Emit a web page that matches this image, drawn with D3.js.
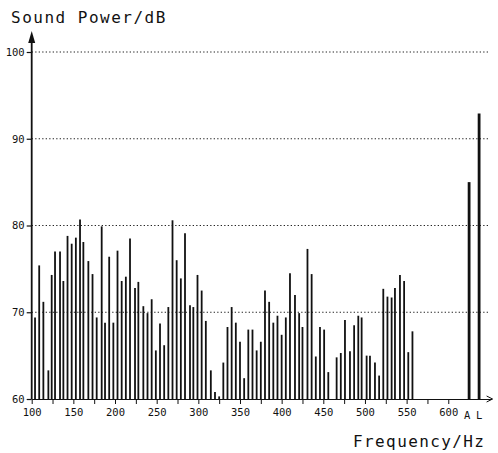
<!DOCTYPE html>
<html>
<head>
<meta charset="utf-8">
<script src="https://cdn.jsdelivr.net/npm/d3@7"></script>
<style>
  html, body { margin: 0; padding: 0; background: #fff; }
  svg text { font-family: "DejaVu Sans Mono", monospace; fill: #111; }
</style>
</head>
<body>
<svg id="chart" width="498" height="453"></svg>
<script>
// frequencies (Hz) of the spectral lines
const freqs = [104, 109, 114, 120, 124, 128, 134, 138, 143, 148, 153, 158, 162, 168, 173, 178,
  184, 188, 193, 198, 203, 208, 213, 218, 224, 228, 234, 239, 244, 249, 254, 259, 264, 269,
  274, 279, 284, 290, 294, 299, 304, 309, 315, 320, 325, 330, 335, 340, 345, 350, 355, 360,
  365, 370, 375, 380, 385, 390, 395, 400, 405, 410, 416, 421, 425, 431, 436, 441, 446, 451,
  456, 466, 471, 476, 482, 487, 492, 496, 502, 506, 512, 517, 522, 527, 532, 536, 542, 547,
  552, 557];
// sound power (dB)
const power = [69.4, 75.4, 71.2, 63.3, 74.3, 77.0, 77.0, 73.6, 78.8, 77.9, 78.6, 80.7, 78.1,
  75.9, 74.4, 69.4, 79.9, 68.8, 76.4, 68.8, 77.1, 73.6, 74.1, 78.5, 72.8, 73.5, 70.7, 69.9,
  71.5, 65.6, 68.7, 66.2, 70.6, 80.6, 76.0, 73.9, 79.1, 70.8, 70.6, 74.3, 72.5, 69.0, 63.3,
  60.8, 60.3, 64.2, 68.3, 70.6, 68.8, 66.6, 62.4, 68.0, 68.0, 65.6, 66.6, 72.5, 71.2, 68.8,
  69.6, 67.4, 69.4, 74.5, 72.0, 69.9, 68.3, 77.3, 74.4, 64.9, 68.3, 68.0, 63.1, 64.8, 65.3,
  69.1, 65.5, 68.5, 69.6, 69.4, 65.0, 65.0, 64.2, 62.7, 72.7, 71.8, 71.7, 72.8, 74.3, 73.6,
  65.4, 67.8];

// overall levels A and L
const totalLabels = ["A", "L"];
const totalFreqs = [625, 637];
const totalPower = [85.0, 92.9];

const yTicks = [60, 70, 80, 90, 100];
const gridTicks = [70, 80, 90, 100];
const xTicks = d3.range(100, 601, 25);

const svg = d3.select("#chart");

const x = d3.scaleLinear().domain([100, 652]).range([31.7, 491.6]);
const y = d3.scaleLinear().domain([60, 100]).range([399, 52]);

// grid lines
svg.append("g")
  .selectAll("line")
  .data(gridTicks)
  .join("line")
  .attr("x1", x(100))
  .attr("x2", 490)
  .attr("y1", d => y(d))
  .attr("y2", d => y(d))
  .attr("stroke", "#222")
  .attr("stroke-width", 1)
  .attr("stroke-dasharray", "1.3,2.2");

// spectral lines
svg.append("g")
  .selectAll("line")
  .data(freqs.map((f, i) => ({ f, v: power[i] })))
  .join("line")
  .attr("x1", d => x(d.f))
  .attr("x2", d => x(d.f))
  .attr("y1", y(60))
  .attr("y2", d => y(d.v))
  .attr("stroke", "#111")
  .attr("stroke-width", 1.8);

// A and L lines
svg.append("g")
  .selectAll("line")
  .data(totalFreqs.map((f, i) => ({ f, v: totalPower[i] })))
  .join("line")
  .attr("x1", d => x(d.f))
  .attr("x2", d => x(d.f))
  .attr("y1", y(60))
  .attr("y2", d => y(d.v))
  .attr("stroke", "#111")
  .attr("stroke-width", 2.8);

// x axis
const xAxis = svg.append("g")
  .attr("transform", `translate(0,${y(60)})`)
  .call(d3.axisBottom(x)
    .tickValues(xTicks)
    .tickSize(5)
    .tickSizeOuter(0)
    .tickPadding(5)
    .tickFormat(d => d % 50 === 0 ? d : ""));
xAxis.select(".domain").attr("stroke", "#111").attr("stroke-width", 1.2);
xAxis.selectAll(".tick line").attr("stroke", "#111");
xAxis.selectAll("text").attr("font-size", 10.5).attr("fill", "#111");

svg.append("g")
  .selectAll("text")
  .data(totalLabels)
  .join("text")
  .attr("x", (d, i) => x(totalFreqs[i]) - (i === 0 ? 2 : 0))
  .attr("y", y(60) + 20)
  .attr("text-anchor", "middle")
  .attr("font-size", 10.5)
  .text(d => d);

// x axis arrow
svg.append("path")
  .attr("d", `M${x(652) - 5},${y(60) - 3} L${x(652) + 1},${y(60)} L${x(652) - 5},${y(60) + 3}`)
  .attr("fill", "none")
  .attr("stroke", "#111")
  .attr("stroke-width", 1);

// y axis
const yAxis = svg.append("g")
  .attr("transform", `translate(${x(100)},0)`)
  .call(d3.axisLeft(y)
    .tickValues(yTicks)
    .tickSize(5)
    .tickSizeOuter(0)
    .tickPadding(2));
yAxis.select(".domain").remove();
yAxis.selectAll(".tick line").attr("stroke", "#111").attr("stroke-width", 1.2);
yAxis.selectAll("text").attr("font-size", 10.5).attr("fill", "#111");

svg.append("line")
  .attr("x1", x(100)).attr("x2", x(100))
  .attr("y1", y(60)).attr("y2", 40)
  .attr("stroke", "#111")
  .attr("stroke-width", 1.8);

svg.append("path")
  .attr("d", `M${x(100)},31 L${x(100) - 3.5},43 L${x(100) + 3.5},43 Z`)
  .attr("fill", "#111");

// titles
svg.append("text")
  .attr("x", 11)
  .attr("y", 23)
  .attr("font-size", 16)
  .attr("letter-spacing", 1.5)
  .text("Sound Power/dB");

svg.append("text")
  .attr("x", 353)
  .attr("y", 447)
  .attr("font-size", 16)
  .attr("letter-spacing", 1.4)
  .text("Frequency/Hz");
</script>
</body>
</html>
